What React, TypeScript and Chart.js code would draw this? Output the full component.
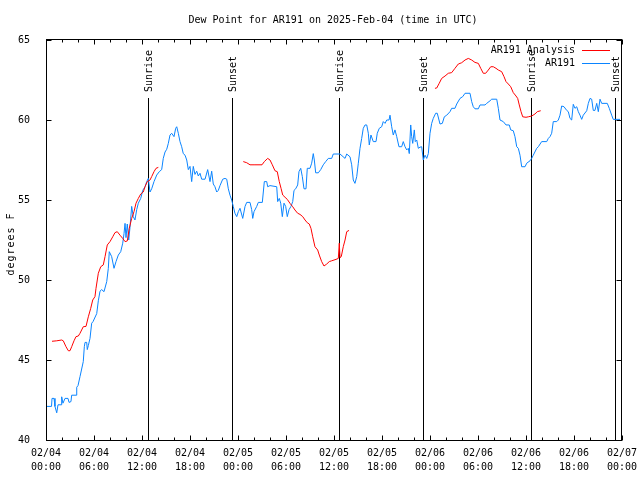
import React, { useEffect, useRef } from "react";
import { Chart, registerables } from "chart.js";

Chart.register(...registerables);

const TITLE = "Dew Point for AR191 on 2025-Feb-04 (time in UTC)";
const Y_LABEL = "degrees F";
const FONT = "'DejaVu Sans Mono', 'Liberation Mono', monospace";

const xTickHours = [0, 6, 12, 18, 24, 30, 36, 42, 48, 54, 60, 66, 72];
const xTickDates = ["02/04", "02/04", "02/04", "02/04", "02/05", "02/05", "02/05", "02/05", "02/06", "02/06", "02/06", "02/06", "02/07"];
const xTickTimes = ["00:00", "06:00", "12:00", "18:00", "00:00", "06:00", "12:00", "18:00", "00:00", "06:00", "12:00", "18:00", "00:00"];

const sunEventHours = [12.79, 23.29, 36.66, 47.17, 60.63, 71.21];
const sunEventLabels = ["Sunrise", "Sunset", "Sunrise", "Sunset", "Sunrise", "Sunset"];

// AR191 observations: hours since 02/04 00:00 UTC, dew point (F)
const obsHours = [
  0.00, 0.69, 0.75, 1.00, 1.12, 1.34, 1.50, 1.88, 1.96, 2.12, 2.38, 2.75, 2.88, 3.12, 3.21, 3.75, 3.84, 4.00, 4.25, 4.66,
  4.79, 4.88, 5.09, 5.16, 5.29, 5.50, 5.71, 5.88, 6.34, 6.54, 6.75, 6.96, 7.25, 7.59, 7.79, 7.91, 8.21, 8.50, 8.75, 9.04,
  9.34, 9.59, 9.75, 9.88, 10.00, 10.16, 10.34, 10.50, 10.71, 10.91, 11.12, 11.34, 11.54, 11.84, 12.09, 12.38, 12.59, 12.79, 13.00, 13.21,
  13.50, 13.84, 14.16, 14.46, 14.66, 14.88, 15.09, 15.29, 15.50, 15.71, 16.00, 16.21, 16.34, 16.54, 16.75, 16.96, 17.16, 17.38, 17.59, 17.79,
  18.00, 18.21, 18.41, 18.62, 18.84, 19.04, 19.25, 19.46, 19.88, 20.21, 20.50, 20.71, 20.91, 21.12, 21.34, 21.54, 21.75, 22.09, 22.38, 22.59,
  22.79, 23.00, 23.21, 23.41, 23.62, 23.84, 24.04, 24.25, 24.59, 24.88, 25.09, 25.50, 25.71, 25.84, 26.00, 26.34, 26.54, 27.04, 27.29, 27.59,
  27.71, 28.00, 28.84, 28.96, 29.16, 29.34, 29.54, 29.75, 29.96, 30.16, 30.38, 30.62, 30.84, 31.00, 31.21, 31.46, 31.62, 31.84, 32.04, 32.25,
  32.50, 32.66, 33.00, 33.21, 33.41, 33.54, 33.71, 34.04, 34.34, 34.66, 34.96, 35.29, 35.71, 35.91, 36.75, 37.38, 37.59, 38.00, 38.21, 38.41,
  38.62, 38.84, 39.04, 39.25, 39.46, 39.66, 39.88, 40.09, 40.29, 40.41, 40.62, 40.91, 41.25, 41.41, 41.66, 41.96, 42.16, 42.38, 42.59, 42.88,
  43.00, 43.21, 43.41, 43.62, 43.84, 44.12, 44.46, 44.66, 44.88, 45.09, 45.29, 45.41, 45.59, 45.71, 45.84, 46.04, 46.16, 46.34, 46.54, 46.75,
  46.96, 47.16, 47.38, 47.59, 47.79, 48.00, 48.21, 48.41, 48.71, 48.91, 49.25, 49.54, 49.79, 50.09, 50.50, 50.71, 51.12, 51.34, 51.75, 52.09,
  52.38, 53.00, 53.21, 53.41, 53.62, 54.04, 54.25, 54.88, 55.09, 55.50, 55.71, 56.34, 56.54, 56.75, 57.16, 57.50, 57.91, 58.09, 58.41, 58.62,
  58.84, 59.04, 59.25, 59.46, 59.88, 60.09, 60.50, 60.71, 60.91, 61.34, 61.54, 61.96, 62.59, 62.79, 63.00, 63.21, 63.41, 63.84, 64.04, 64.25,
  64.46, 64.75, 65.09, 65.29, 65.50, 65.71, 65.91, 66.12, 66.34, 66.54, 66.75, 66.96, 67.16, 67.59, 67.79, 68.00, 68.21, 68.41, 68.62, 68.84,
  69.04, 69.25, 69.46, 70.16, 70.41, 70.71, 70.91, 71.75,
];
const obsDewPoint = [
  42.1, 42.1, 42.6, 42.6, 42.1, 41.7, 42.2, 42.2, 42.7, 42.3, 42.6, 42.6, 42.35, 42.4, 42.8, 42.8, 43.3, 43.4, 43.96, 44.9,
  45.83, 46.1, 46.1, 45.65, 45.9, 46.35, 47.3, 47.4, 47.9, 48.7, 49.3, 49.4, 49.27, 49.9, 50.73, 51.77, 51.46, 50.73, 51.15, 51.56,
  51.77, 52.3, 52.9, 53.54, 52.65, 53.5, 52.5, 53.3, 54.6, 53.96, 53.75, 54.4, 54.8, 55.1, 55.6, 55.83, 56.15, 56.35, 55.5, 55.7,
  56.15, 56.56, 56.77, 56.9, 57.6, 58.0, 58.17, 58.54, 59.06, 59.17, 58.96, 59.48, 59.58, 59.17, 58.65, 58.33, 57.9, 57.8, 57.5, 56.9,
  57.1, 56.15, 57.1, 56.6, 56.8, 56.5, 56.67, 56.3, 56.3, 56.9, 56.15, 56.8, 56.0, 55.83, 55.5, 55.6, 55.9, 56.3, 56.35, 56.3,
  55.7, 55.3, 55.0, 54.6, 54.17, 53.96, 54.27, 54.48, 53.85, 54.6, 54.85, 54.85, 54.4, 53.85, 54.27, 54.6, 54.85, 54.85, 56.15, 56.15,
  55.83, 55.9, 55.83, 54.9, 55.1, 54.8, 53.96, 54.8, 54.6, 53.96, 54.4, 54.6, 54.9, 55.6, 55.7, 55.94, 56.77, 56.98, 56.46, 55.7,
  55.7, 56.98, 56.98, 57.3, 57.9, 57.5, 56.7, 56.7, 56.9, 57.2, 57.4, 57.6, 57.6, 57.875, 57.875, 57.6, 57.875, 57.7, 57.2, 56.25,
  56.04, 56.46, 57.3, 58.23, 58.85, 59.48, 59.69, 59.69, 59.17, 58.44, 59.06, 58.65, 58.65, 59.17, 59.48, 59.58, 59.9, 59.79, 60.0, 60.0,
  60.3, 59.58, 59.06, 59.38, 58.96, 58.33, 58.33, 58.65, 58.33, 58.13, 58.23, 57.9, 59.69, 58.96, 58.54, 59.38, 58.65, 58.75, 58.23, 58.3,
  58.33, 57.5, 57.8, 57.6, 57.9, 59.17, 59.79, 60.1, 60.42, 60.42, 59.75, 59.79, 60.2, 60.3, 60.52, 60.73, 60.73, 61.0, 61.35, 61.46,
  61.67, 61.67, 61.15, 60.83, 60.7, 60.7, 60.94, 60.94, 61.04, 61.2, 61.3, 61.3, 60.73, 60.0, 59.9, 59.69, 59.69, 59.38, 59.33, 58.96,
  58.33, 58.23, 57.8, 57.08, 57.08, 57.3, 57.45, 57.6, 57.8, 58.23, 58.33, 58.65, 58.65, 58.85, 58.96, 59.17, 59.9, 59.9, 60.0, 60.3,
  60.875, 60.83, 60.6, 60.52, 60.1, 60.0, 60.98, 60.73, 60.83, 60.52, 60.3, 60.04, 60.3, 60.58, 61.04, 61.35, 61.3, 60.6, 60.6, 61.04,
  60.52, 61.3, 61.04, 61.04, 60.73, 60.3, 60.04, 60.04,
];

// AR191 Analysis: hours since 02/04 00:00 UTC, dew point (F); null = gap
const anaHours = [
  0.75, 1.34, 1.96, 2.16, 2.50, 2.79, 3.00, 3.21, 3.50, 3.75, 4.04, 4.25, 4.66, 5.00, 5.29, 5.59, 5.84, 6.12, 6.25, 6.54,
  6.84, 7.16, 7.38, 7.66, 8.00, 8.34, 8.62, 8.91, 9.25, 9.59, 9.88, 10.16, 10.41, 10.71, 11.00, 11.25, 11.54, 11.84, 12.16, 12.38,
  12.66, 13.00, 13.21, 13.50, 13.75, 14.04,
  19.0,
  24.66, 25.09, 25.50, 26.12, 27.00, 27.29, 27.71, 28.00, 28.29, 28.62, 28.91, 29.16, 29.38, 29.59, 29.88, 30.16, 30.50, 30.84, 31.12, 31.46,
  31.75, 32.09, 32.38, 32.66, 32.91, 33.12, 33.34, 33.62, 33.96, 34.16, 34.46, 34.75, 35.09, 35.41, 35.71, 36.25, 36.54, 36.66, 36.75, 36.91,
  37.16, 37.38, 37.59, 37.88,
  43.0,
  48.62, 48.84, 49.16, 49.46, 49.88, 50.29, 50.71, 51.12, 51.54, 51.96, 52.38, 52.79, 53.21, 53.62, 54.04, 54.34, 54.66, 54.96, 55.29, 55.59,
  55.91, 56.25, 56.54, 56.96, 57.25, 57.50, 57.79, 58.09, 58.41, 58.75, 58.96, 59.16, 59.38, 59.59, 60.00, 60.29, 60.71, 61.12, 61.41, 61.84,
];
const anaDewPoint = [
  46.17, 46.2, 46.25, 46.2, 45.83, 45.58, 45.58, 45.83, 46.2, 46.46, 46.5, 46.67, 47.08, 47.1, 47.7, 48.23, 48.75, 48.96, 49.48, 50.42,
  50.83, 50.94, 51.46, 52.19, 52.4, 52.7, 52.96, 53.02, 52.8, 52.6, 52.4, 52.44, 53.23, 53.85, 54.27, 54.8, 55.1, 55.375, 55.5, 55.83,
  56.15, 56.25, 56.46, 56.77, 56.98, 57.04,
  null,
  57.4, 57.33, 57.2, 57.2, 57.2, 57.4, 57.6, 57.5, 57.2, 56.83, 56.77, 56.15, 55.73, 55.31, 55.17, 55.04, 54.79, 54.58, 54.375, 54.17,
  54.1, 53.96, 53.75, 53.58, 53.5, 53.23, 52.7, 52.08, 51.875, 51.56, 51.15, 50.875, 51.0, 51.15, 51.2, 51.29, 51.35, 52.3, 51.4, 51.46,
  52.08, 52.5, 53.02, 53.1,
  null,
  61.98, 62.0, 62.3, 62.6, 62.75, 62.92, 62.96, 63.23, 63.5, 63.58, 63.75, 63.85, 63.75, 63.6, 63.54, 63.23, 62.92, 62.92, 63.125, 63.33,
  63.33, 63.23, 63.125, 63.02, 62.71, 62.4, 62.25, 62.08, 61.71, 61.5, 61.35, 60.94, 60.52, 60.2, 60.17, 60.2, 60.25, 60.375, 60.52, 60.58,
];

const RED = "#ff0000";
const BLUE = "#0a84ff";

const overlayPlugin = {
  id: "gnuOverlay",
  beforeDatasetsDraw(chart: any) {
    const { ctx, chartArea: a, scales } = chart;
    const x = scales.x;
    const y = scales.y;
    ctx.save();
    ctx.strokeStyle = "#000";
    ctx.lineWidth = 1;
    const L = Math.round(a.left) + 0.5;
    const R = Math.round(a.right) - 0.5;
    const T = Math.round(a.top) - 0.5;
    const B = Math.round(a.bottom) + 0.5;
    ctx.beginPath();
    // x ticks (major every 6h, minor every 2h), top and bottom, inward
    for (let h = 0; h <= 72; h += 2) {
      const px = Math.round(x.getPixelForValue(h)) + 0.5;
      const len = h % 6 === 0 ? 5 : 3;
      ctx.moveTo(px, B);
      ctx.lineTo(px, B - len);
      ctx.moveTo(px, T);
      ctx.lineTo(px, T + len);
    }
    // y ticks, left and right, inward
    for (let v = 40; v <= 65; v += 5) {
      const py = Math.round(y.getPixelForValue(v)) + 0.5;
      ctx.moveTo(L, py);
      ctx.lineTo(L + 5, py);
      ctx.moveTo(R, py);
      ctx.lineTo(R - 5, py);
    }
    ctx.stroke();

    // x tick labels
    ctx.font = `10px ${FONT}`;
    ctx.fillStyle = "#000";
    ctx.textAlign = "center";
    ctx.textBaseline = "middle";
    xTickHours.forEach((h, i) => {
      const px = x.getPixelForValue(h);
      ctx.fillText(xTickDates[i], px, 453.5);
      ctx.fillText(xTickTimes[i], px, 467);
    });

    // sunrise / sunset lines
    sunEventHours.forEach((h, i) => {
      const px = Math.floor(x.getPixelForValue(h)) + 0.5;
      ctx.beginPath();
      ctx.moveTo(px, 98);
      ctx.lineTo(px, B);
      ctx.stroke();
      ctx.save();
      ctx.translate(px + 0.5, 92);
      ctx.rotate(-Math.PI / 2);
      ctx.textAlign = "left";
      ctx.textBaseline = "middle";
      ctx.fillText(sunEventLabels[i], 0, 0);
      ctx.restore();
    });
    ctx.restore();
  },
  afterDraw(chart: any) {
    const { ctx, chartArea: a } = chart;
    ctx.save();
    ctx.strokeStyle = "#000";
    ctx.lineWidth = 1;
    const L = Math.round(a.left) + 0.5;
    const R = Math.round(a.right) - 0.5;
    const T = Math.round(a.top) - 0.5;
    const B = Math.round(a.bottom) + 0.5;
    ctx.strokeRect(L, T, R - L, B - T);

    ctx.fillStyle = "#000";
    ctx.font = `10px ${FONT}`;
    ctx.textAlign = "center";
    ctx.textBaseline = "middle";
    ctx.fillText(TITLE, (a.left + a.right) / 2 - 1, 20);

    // y axis title
    ctx.save();
    ctx.translate(11, 244);
    ctx.rotate(-Math.PI / 2);
    ctx.textAlign = "center";
    ctx.textBaseline = "middle";
    try { (ctx as any).letterSpacing = "1px"; } catch (e) {}
    ctx.fillText(Y_LABEL, 0, 0);
    ctx.restore();

    // legend
    const items = [
      { label: "AR191 Analysis", color: RED, y: 50.5 },
      { label: "AR191", color: BLUE, y: 63.5 },
    ];
    ctx.textAlign = "right";
    items.forEach((it) => {
      ctx.fillStyle = "#000";
      ctx.fillText(it.label, 575, it.y);
      ctx.strokeStyle = it.color;
      ctx.beginPath();
      ctx.moveTo(582, it.y);
      ctx.lineTo(610, it.y);
      ctx.stroke();
    });
    ctx.restore();
  },
};

export default function App() {
  const canvasRef = useRef<HTMLCanvasElement | null>(null);

  useEffect(() => {
    if (!canvasRef.current) return;
    const obsData = obsHours.map((h, i) => ({ x: h, y: obsDewPoint[i] }));
    const anaData = anaHours.map((h, i) => ({ x: h, y: anaDewPoint[i] }));
    const chart = new Chart(canvasRef.current, {
      type: "line",
      data: {
        datasets: [
          {
            label: "AR191 Analysis",
            data: anaData as any,
            borderColor: RED,
            borderWidth: 1,
            pointRadius: 0,
            tension: 0,
            spanGaps: false,
            fill: false,
          },
          {
            label: "AR191",
            data: obsData as any,
            borderColor: BLUE,
            borderWidth: 1,
            pointRadius: 0,
            tension: 0,
            fill: false,
          },
        ],
      },
      options: {
        responsive: false,
        animation: false,
        events: [],
        layout: { padding: { top: 40, right: 18, left: 0, bottom: 0 } },
        plugins: {
          legend: { display: false },
          title: { display: false },
          tooltip: { enabled: false },
        },
        scales: {
          x: {
            type: "linear",
            min: 0,
            max: 72,
            grid: { display: false },
            border: { display: false },
            ticks: { display: false, stepSize: 6 },
            afterFit: (scale: any) => {
              scale.height = 40;
            },
          },
          y: {
            type: "linear",
            min: 40,
            max: 65,
            grid: { display: false },
            border: { display: false },
            afterFit: (scale: any) => {
              scale.width = 46;
            },
            ticks: {
              stepSize: 5,
              padding: 8,
              color: "#000",
              font: { family: FONT, size: 10 },
            },
          },
        },
      },
      plugins: [overlayPlugin],
    });
    return () => chart.destroy();
  }, []);

  return (
    <div style={{ position: "absolute", left: 0, top: 0, width: 640, height: 480, background: "#fff" }}>
      <canvas ref={canvasRef} width={640} height={480} style={{ display: "block" }} />
    </div>
  );
}
